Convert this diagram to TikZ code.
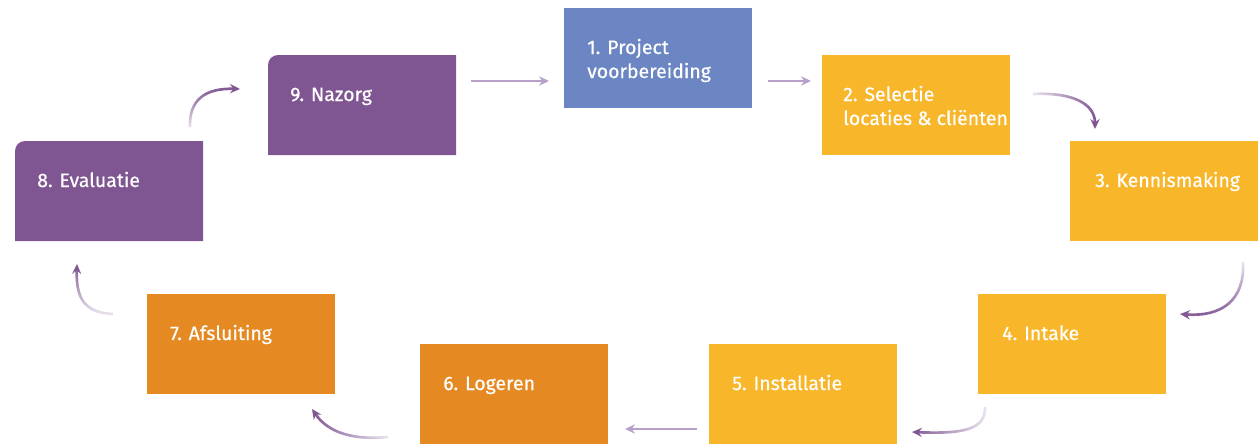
\documentclass[tikz,border=0pt]{standalone}
\usepackage{fontspec}
\setmainfont{Fira Sans}
\newfontfamily\lblfont{Fira Sans}[FakeBold=0.5]
\usetikzlibrary{arrows.meta,fadings,calc}
\definecolor{cyel}{HTML}{F8B62A}
\definecolor{corg}{HTML}{E58A23}
\definecolor{cblue}{HTML}{6B86C2}
\definecolor{cpurp}{HTML}{7F5592}
\definecolor{carrow}{HTML}{7F5592}
\definecolor{clight}{HTML}{B7A0C9}
\tikzfading[name=fE, left color=transparent!85, right color=transparent!0]
\tikzfading[name=fW, right color=transparent!85, left color=transparent!0]
\tikzfading[name=fN, bottom color=transparent!85, top color=transparent!0]
\tikzfading[name=fS, top color=transparent!85, bottom color=transparent!0]
\begin{document}
\begin{tikzpicture}[x=0.75pt,y=0.75pt,
  box/.style={rectangle, inner sep=0pt, outer sep=0pt, minimum width=141pt, minimum height=75pt, anchor=north west},
  lbl/.style={text=white, font=\lblfont\fontsize{14.6}{18}\selectfont, inner sep=0pt, anchor=base west, align=left},
  flow/.style={line width=2pt, draw=carrow, -{Stealth[length=7.5pt,width=7pt,inset=2.5pt]}},
  flat/.style={line width=2pt, draw=clight, -{Stealth[length=7.5pt,width=7pt,inset=2.5pt]}}]
\useasboundingbox (0,0) rectangle (1258,-444);
% boxes
\node[box, fill=cblue] (b1) at (564,-8) {};
\node[box, fill=cyel] (b2) at (822,-55) {};
\node[box, fill=cyel] (b3) at (1070,-141) {};
\node[box, fill=cyel] (b4) at (978,-294) {};
\node[box, fill=cyel] (b5) at (709,-344) {};
\node[box, fill=corg] (b6) at (420,-344) {};
\node[box, fill=corg] (b7) at (147,-294) {};
\node[box] (b8) at (15,-141) {};
\node[box] (b9) at (268,-55) {};
\fill[cpurp] (b8.south west) -- ([yshift=-7.5pt]b8.north west) arc[start angle=180,end angle=90,radius=7.5pt] -- (b8.north east) -- (b8.south east) -- cycle;
\fill[cpurp] (b9.south west) -- ([yshift=-7.5pt]b9.north west) arc[start angle=180,end angle=90,radius=7.5pt] -- (b9.north east) -- (b9.south east) -- cycle;
% labels
\node[lbl] (t1) at ($(b1.north west)+(23,-70)$) {1. Project\\voorbereiding};
\node[lbl] (t2) at ($(b2.north west)+(21,-70)$) {2. Selectie\\locaties \& cliënten};
\node[lbl] (t3) at ($(b3.north west)+(25,-46)$) {3. Kennismaking};
\node[lbl] (t4) at ($(b4.north west)+(24,-46)$) {4. Intake};
\node[lbl] (t5) at ($(b5.north west)+(23,-46)$) {5. Installatie};
\node[lbl] (t6) at ($(b6.north west)+(23,-46)$) {6. Logeren};
\node[lbl] (t7) at ($(b7.north west)+(23,-46)$) {7. Afsluiting};
\node[lbl] (t8) at ($(b8.north west)+(22,-46)$) {8. Evaluatie};
\node[lbl] (t9) at ($(b9.north west)+(22,-46)$) {9. Nazorg};
% connector end points
\coordinate (a91s) at (471,-81);  \coordinate (a91e) at (549,-81);
\coordinate (a12s) at (768,-81);  \coordinate (a12e) at (811,-81);
\coordinate (a23s) at (1033,-94); \coordinate (a23e) at (1095,-129);
\coordinate (a34s) at (1243,-262);\coordinate (a34e) at (1180,-314);
\coordinate (a45s) at (985,-407); \coordinate (a45e) at (912,-432);
\coordinate (a56s) at (697,-429); \coordinate (a56e) at (625,-429);
\coordinate (a67s) at (388,-437); \coordinate (a67e) at (312,-409);
\coordinate (a78s) at (113,-314); \coordinate (a78e) at (77,-264);
\coordinate (a89s) at (190,-127); \coordinate (a89e) at (240,-89);
% connectors
\draw[flat] (a91s) -- (a91e);
\draw[flat] (a12s) -- (a12e);
\draw[flat] (a56s) -- (a56e);
\draw[flow, path fading=fE] (a23s) .. controls (1075,-92) and (1095,-105) .. (a23e);
\draw[flow, path fading=fS] (a34s) .. controls (1245,-300) and (1222,-317) .. (a34e);
\draw[flow, path fading=fW] (a45s) .. controls (986,-430) and (962,-434) .. (a45e);
\draw[flow, path fading=fW] (a67s) .. controls (345,-441) and (325,-428) .. (a67e);
\draw[flow, path fading=fN] (a78s) .. controls (82,-313) and (76,-295) .. (a78e);
\draw[flow, path fading=fN] (a89s) .. controls (189,-100) and (205,-88) .. (a89e);
\end{tikzpicture}
\end{document}
